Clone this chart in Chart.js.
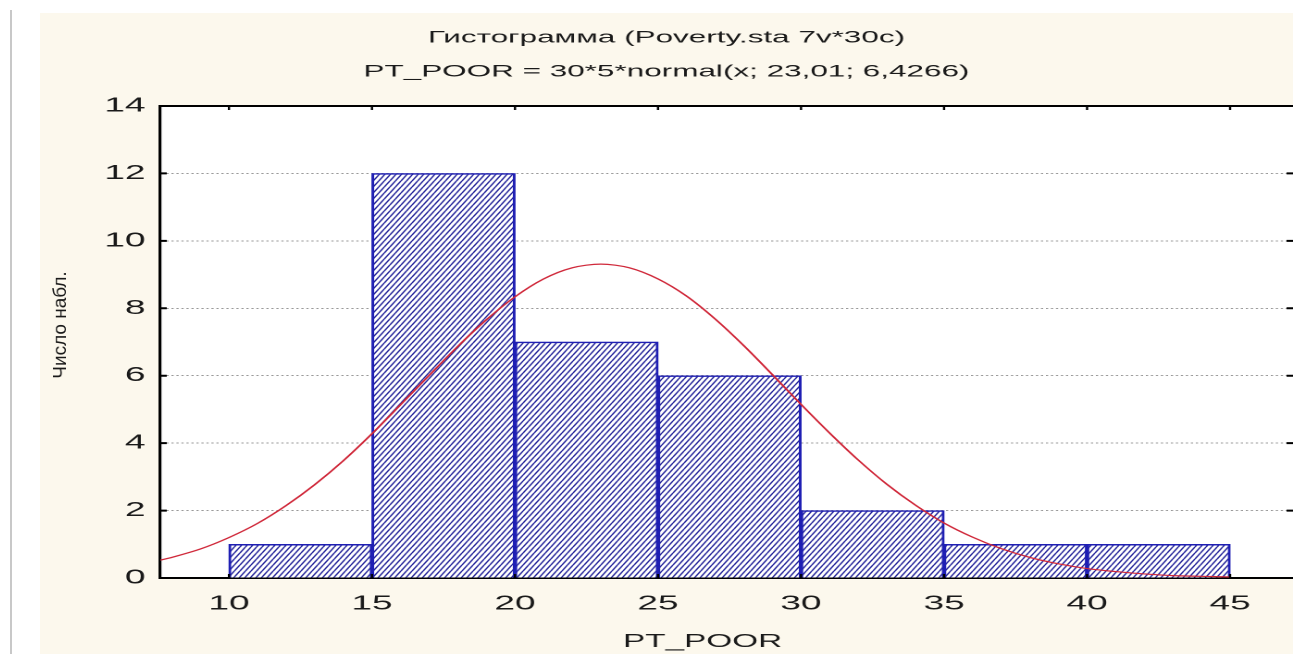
<!DOCTYPE html>
<html>
<head>
<meta charset="utf-8">
<script src="https://cdn.jsdelivr.net/npm/chart.js@4.4.1/dist/chart.umd.min.js"></script>
<style>
  html, body { margin: 0; padding: 0; background: #fff; overflow: hidden; }
  #frame { position: absolute; left: 10px; top: 10px; width: 2px; height: 644px; background: #c8c8c8; }
  #paper { position: absolute; left: 40px; top: 13px; width: 1253px; height: 641px; background: #fcf8ed; }
  #chart { display: block; }
</style>
</head>
<body>
<div id="frame"></div>
<div id="paper"><canvas id="chart" width="677" height="641" style="width:1253px;height:641px"></canvas></div>
<script>
const titleLines = ['Гистограмма (Poverty.sta 7v*30c)', 'PT_POOR = 30*5*normal(x; 23,01; 6,4266)'];
const xTitle = 'PT_POOR';
const yTitle = 'Число набл.';

const binCenters = [12.5, 17.5, 22.5, 27.5, 32.5, 37.5, 42.5];
const binCounts = [1, 12, 7, 6, 2, 1, 1];

const curveX = [7.6, 8, 9, 10, 11, 12, 13, 14, 15, 16, 17, 18, 19, 20, 21, 22, 23, 24, 25, 26,
  27, 28, 29, 30, 31, 32, 33, 34, 35, 36, 37, 38, 39, 40, 41, 42, 43, 44, 45];
const curveY = [0.53, 0.61, 0.86, 1.20, 1.62, 2.15, 2.77, 3.48, 4.28, 5.14, 6.01, 6.87, 7.66, 8.34, 8.87, 9.20, 9.31, 9.20, 8.87, 8.36,
  7.68, 6.89, 6.03, 5.15, 4.30, 3.50, 2.78, 2.16, 1.63, 1.21, 0.87, 0.61, 0.42, 0.28, 0.19, 0.12, 0.07, 0.05, 0.03];

const xTicks = [10, 15, 20, 25, 30, 35, 40, 45];
const yTicks = [0, 2, 4, 6, 8, 10, 12, 14];

// the old screenshot is stretched sideways, so the canvas is too
const SX = 1253 / 677;
const FONT = '"Liberation Sans", Arial, sans-serif';
const INK = '#1a1a1a';

function hatch() {
  const c = document.createElement('canvas');
  c.width = 6; c.height = 12;
  const g = c.getContext('2d');
  g.fillStyle = '#ffffff';
  g.fillRect(0, 0, 6, 12);
  g.strokeStyle = '#24249a';
  g.lineWidth = 1.8;
  g.beginPath();
  [-6, 0, 6].forEach(dx => { g.moveTo(dx, 12); g.lineTo(dx + 6, 0); });
  g.stroke();
  const p = g.createPattern(c, 'repeat');
  p.setTransform(new DOMMatrix([0.5, 0, 0, 0.5, 0, 0]));
  return p;
}

const framePlugin = {
  id: 'frame',
  beforeDatasetsDraw(chart) {
    const { ctx, chartArea: a } = chart;
    ctx.save();
    ctx.globalCompositeOperation = 'destination-over';
    ctx.fillStyle = '#ffffff';
    ctx.fillRect(a.left, a.top, a.right - a.left, a.bottom - a.top);
    ctx.restore();
  },
  afterDraw(chart) {
    const { ctx, chartArea: a, scales } = chart;
    ctx.save();
    ctx.strokeStyle = '#000';
    ctx.lineWidth = 2;
    ctx.beginPath();
    ctx.moveTo(a.left, a.top); ctx.lineTo(a.right, a.top);
    yTicks.forEach(v => {
      const y = scales.y.getPixelForValue(v);
      ctx.moveTo(a.left, y); ctx.lineTo(a.left + 3.5, y);
      ctx.moveTo(a.right - 3.5, y); ctx.lineTo(a.right, y);
    });
    ctx.stroke();
    ctx.lineWidth = 1.2;
    ctx.beginPath();
    xTicks.forEach(v => {
      const x = scales.x.getPixelForValue(v);
      ctx.moveTo(x, a.top); ctx.lineTo(x, a.top + 4);
      ctx.moveTo(x, a.bottom); ctx.lineTo(x, a.bottom - 4);
    });
    ctx.stroke();

    ctx.fillStyle = INK;
    ctx.textAlign = 'center';
    ctx.textBaseline = 'middle';
    ctx.font = '18px ' + FONT;
    ctx.fillText(xTitle, (a.left + a.right) / 2 - 13, 629);

    ctx.translate(11.3, (a.top + a.bottom) / 2 - 17);
    ctx.scale(1 / SX, 1);
    ctx.rotate(-Math.PI / 2);
    ctx.font = '19px ' + FONT;
    ctx.fillText(yTitle, 0, 0);
    ctx.restore();
  }
};

new Chart(document.getElementById('chart'), {
  data: {
    datasets: [{
      type: 'line',
      data: curveX.map((x, i) => ({ x: x, y: curveY[i] })),
      borderColor: '#d0283a',
      borderWidth: 1.2,
      pointRadius: 0,
      tension: 0.3,
      order: 0
    }, {
      type: 'bar',
      data: binCenters.map((x, i) => ({ x: x, y: binCounts[i] })),
      backgroundColor: hatch(),
      borderColor: '#1f1fb4',
      borderWidth: 1.5,
      barPercentage: 1,
      categoryPercentage: 1,
      order: 1
    }]
  },
  options: {
    responsive: false,
    devicePixelRatio: 2,
    animation: false,
    layout: { padding: 0 },
    plugins: {
      legend: { display: false },
      tooltip: { enabled: false },
      title: {
        display: true,
        text: titleLines,
        color: INK,
        font: { family: FONT, size: 17, weight: 'normal', lineHeight: 2 },
        padding: { top: 8, bottom: 17 }
      }
    },
    scales: {
      x: {
        type: 'linear',
        min: 7.6,
        max: 47.2,
        offset: false,
        afterBuildTicks: s => { s.ticks = xTicks.map(v => ({ value: v })); },
        afterFit: s => { s.height = 76; },
        grid: { display: false, drawTicks: false, offset: false },
        border: { color: '#000', width: 2 },
        ticks: { padding: 14, color: INK, font: { family: FONT, size: 20 }, maxRotation: 0, autoSkip: false }
      },
      y: {
        min: 0,
        max: 14,
        afterBuildTicks: s => { s.ticks = yTicks.map(v => ({ value: v })); },
        afterFit: s => { s.width = 65; },
        grid: {
          drawTicks: false,
          lineWidth: 1,
          color: c => (c.tick && c.tick.value > 0 && c.tick.value < 14) ? '#9a9a9a' : 'rgba(0,0,0,0)'
        },
        border: { color: '#000', width: 1.6, dash: [1.2, 1.5] },
        ticks: { padding: 8, color: INK, font: { family: FONT, size: 20 } }
      }
    }
  },
  plugins: [framePlugin]
});
</script>
</body>
</html>
